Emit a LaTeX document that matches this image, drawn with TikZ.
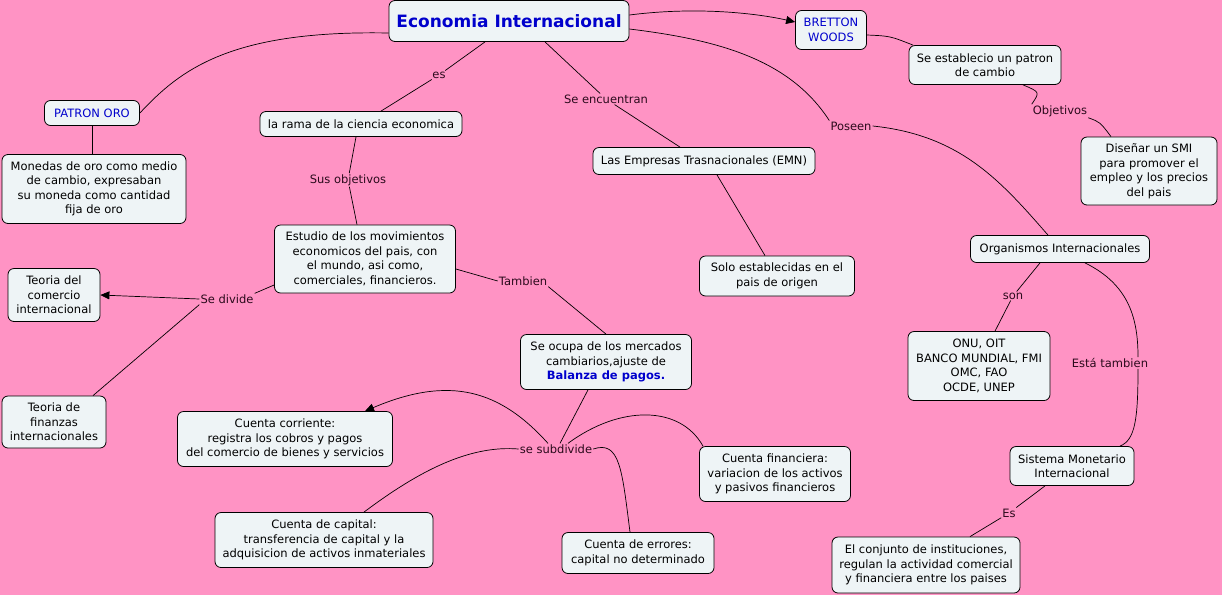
\documentclass[tikz,border=0pt]{standalone}
\usepackage{fontspec}
\setmainfont{DejaVu Sans}
\usetikzlibrary{arrows.meta}
\definecolor{bg}{HTML}{FF93C4}
\definecolor{boxfill}{HTML}{EEF4F6}
\definecolor{conc}{HTML}{0000CC}
\definecolor{lab}{HTML}{2B0A1C}
\begin{document}
\begin{tikzpicture}[x=1pt,y=-1pt,
 box/.style={draw=black, line width=0.8pt, fill=boxfill, rounded corners=6pt, align=center, inner sep=1pt, font=\fontsize{11.5}{14.5}\selectfont, text=black},
 blue/.style={text=conc},
 lbl/.style={fill=bg, inner sep=1pt, text=lab, font=\fontsize{11.5}{13}\selectfont},
 con/.style={draw=black, line width=0.7pt},
 arr/.style={con, -{Triangle[length=9pt,width=8pt]}},
]
\fill[bg] (0,0) rectangle (1222,595);
\useasboundingbox (0,0) rectangle (1222,595);

% boxes
\node[box, minimum width=240, minimum height=41, text=conc, font=\fontsize{17}{20}\selectfont\bfseries] (title) at (509,21) {Economia Internacional};
\node[box, blue, minimum width=71, minimum height=39] (bw) at (831,30) {BRETTON\\WOODS};
\node[box, minimum width=152, minimum height=39] (sep) at (985,65) {Se establecio un patron\\de cambio};
\node[box, minimum width=136, minimum height=68] (dis) at (1149,171) {Diseñar un SMI\\para promover el\\empleo y los precios\\del pais};
\node[box, blue, minimum width=95, minimum height=25] (po) at (92,113) {PATRON ORO};
\node[box, minimum width=184, minimum height=69] (mon) at (94,189) {Monedas de oro como medio\\de cambio, expresaban\\su moneda como cantidad\\fija de oro};
\node[box, minimum width=202, minimum height=25] (rama) at (361,124) {la rama de la ciencia economica};
\node[box, minimum width=222, minimum height=27] (emn) at (704,161) {Las Empresas Trasnacionales (EMN)};
\node[box, minimum width=155, minimum height=40] (solo) at (777,276) {Solo establecidas en el\\pais de origen};
\node[box, minimum width=179, minimum height=27] (org) at (1060,249) {Organismos Internacionales};
\node[box, minimum width=142, minimum height=69] (onu) at (979,366) {ONU, OIT\\BANCO MUNDIAL, FMI\\OMC, FAO\\OCDE, UNEP};
\node[box, minimum width=124, minimum height=39] (smi) at (1072,466) {Sistema Monetario\\Internacional};
\node[box, minimum width=188, minimum height=56] (conj) at (926,565) {El conjunto de instituciones,\\regulan la actividad comercial\\y financiera entre los paises};
\node[box, minimum width=181, minimum height=68] (est) at (365,259) {Estudio de los movimientos\\economicos del pais, con\\el mundo, asi como,\\comerciales, financieros.};
\node[box, minimum width=92, minimum height=53] (tc) at (54,295) {Teoria del\\comercio\\internacional};
\node[box, minimum width=104, minimum height=52] (tf) at (54,422) {Teoria de\\finanzas\\internacionales};
\node[box, minimum width=171, minimum height=55] (ocupa) at (606,362) {Se ocupa de los mercados\\cambiarios,ajuste de\\{\color{conc}\bfseries Balanza de pagos.}};
\node[box, minimum width=215, minimum height=55] (cc) at (285,439) {Cuenta corriente:\\registra los cobros y pagos\\del comercio de bienes y servicios};
\node[box, minimum width=151, minimum height=55] (cf) at (775,474) {Cuenta financiera:\\variacion de los activos\\y pasivos financieros};
\node[box, minimum width=218, minimum height=55] (ccap) at (324,540) {Cuenta de capital:\\transferencia de capital y la\\adquisicion de activos inmateriales};
\node[box, minimum width=152, minimum height=41] (cerr) at (638,553) {Cuenta de errores:\\capital no determinado};

% labels
\node[lbl] (les) at (439,75) {es};
\node[lbl] (lenc) at (606,99) {Se encuentran};
\node[lbl] (lpos) at (851,126) {Poseen};
\node[lbl] (lobj) at (1060,111) {Objetivos};
\node[lbl] (lson) at (1013,296) {son};
\node[lbl] (lesta) at (1110,363) {Está tambien};
\node[lbl] (lEs) at (1009,513) {Es};
\node[lbl] (lsus) at (348,180) {Sus objetivos};
\node[lbl] (ldiv) at (227,299) {Se divide};
\node[lbl] (ltam) at (523,281) {Tambien};
\node[lbl] (lsub) at (556,449) {se subdivide};

% connectors
\draw[con] ([yshift=-12pt]title.west) .. controls (230,30) and (180,70) .. (po.east);
\draw[arr] ([yshift=6pt]title.east) .. controls (700,6) and (760,14) .. ([yshift=8pt]bw.west);
\draw[con] ([yshift=-5pt]bw.east) .. controls (890,36) .. ([xshift=-72pt]sep.north);
\draw[con] ([xshift=38pt]sep.south) .. controls (1040,92) .. (lobj.north west);
\draw[con] (lobj.south east) .. controls (1100,122) .. ([xshift=-38pt]dis.north);
\draw[con] ([xshift=-24pt]title.south) -- (les);
\draw[con] (les) -- ([xshift=20pt]rama.north);
\draw[con] ([xshift=36pt]title.south) -- (lenc);
\draw[con] (lenc) -- ([xshift=-24pt]emn.north);
\draw[con] ([yshift=-8pt]title.east) .. controls (720,40) and (790,60) .. (lpos.north west);
\draw[con] (lpos.east) .. controls (960,135) and (1000,180) .. ([xshift=-12pt]org.north);
\draw[con] ([xshift=-20pt]org.south) -- (lson);
\draw[con] (lson) -- ([xshift=16pt]onu.north);
\draw[con] ([xshift=25pt]org.south) .. controls (1130,285) and (1138,320) .. ([xshift=28pt]lesta.north);
\draw[con] ([xshift=28pt]lesta.south) .. controls (1138,420) and (1135,440) .. ([xshift=48pt]smi.north);
\draw[con] ([xshift=-27pt]smi.south) -- (lEs);
\draw[con] (lEs) -- ([xshift=44pt]conj.north);
\draw[con] (po.south) -- (po.south |- mon.north);
\draw[con] ([xshift=13pt]emn.south) -- ([xshift=-12pt]solo.north);
\draw[con] ([xshift=-5pt]rama.south) -- (lsus);
\draw[con] (lsus) -- ([xshift=-8pt]est.north);
\draw[con] ([yshift=-26pt]est.west) -- (ldiv.north east);
\draw[arr] (ldiv.west) -- (tc.east);
\draw[con] (ldiv.south west) -- ([xshift=39pt]tf.north);
\draw[con] ([yshift=-10pt]est.east) -- (ltam.west);
\draw[con] (ltam.south east) -- (ocupa.north);
\draw[con] ([xshift=-18pt]ocupa.south) -- ([xshift=4pt]lsub.north);
\draw[arr] ([xshift=-8pt]lsub.north) .. controls (500,390) and (450,375) .. ([xshift=80pt]cc.north);
\draw[con] ([xshift=12pt]lsub.north) .. controls (620,405) and (680,405) .. ([xshift=-72pt]cf.north);
\draw[con] (lsub.west) .. controls (470,445) and (420,470) .. ([xshift=40pt]ccap.north);
\draw[con] (lsub.east) .. controls (620,440) and (622,470) .. ([xshift=-8pt]cerr.north);
\end{tikzpicture}
\end{document}
